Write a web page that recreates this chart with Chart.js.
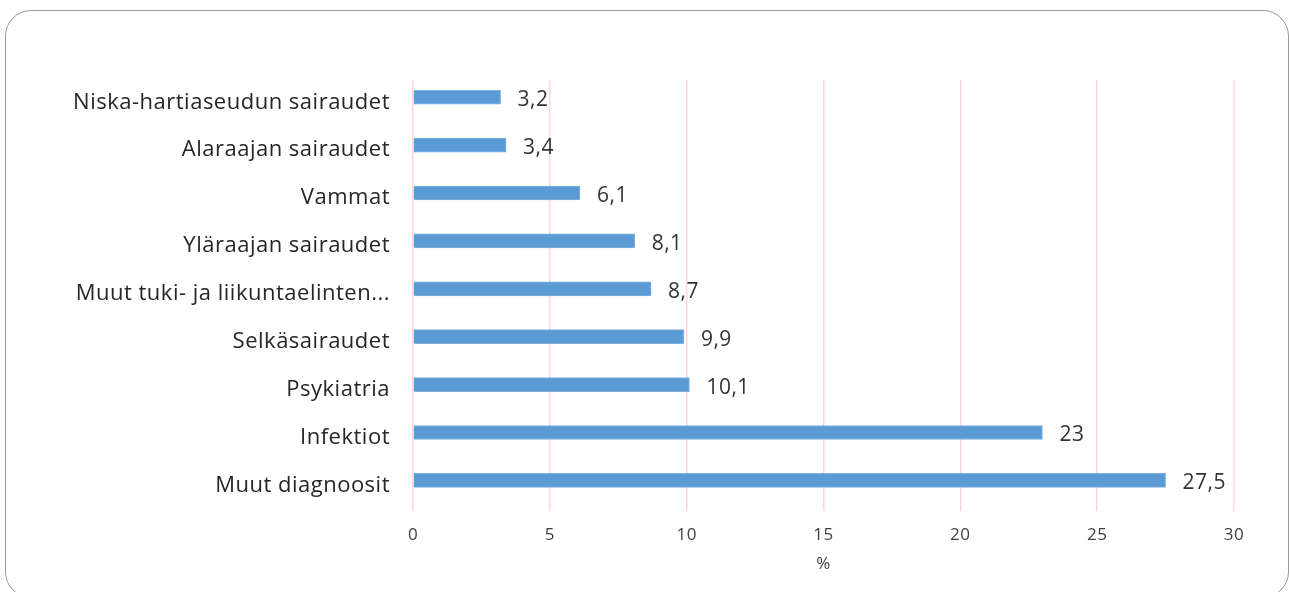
<!DOCTYPE html>
<html>
<head>
<meta charset="utf-8">
<script src="https://cdn.jsdelivr.net/npm/chart.js@4/dist/chart.umd.min.js"></script>
<style>
  html, body { margin: 0; padding: 0; background: #fff; overflow: hidden; }
  #wrap { position: relative; width: 1289px; height: 592px; }
  #frame {
    position: absolute; left: 5px; top: 10px; width: 1284px; height: 588px;
    border: 1.5px solid #9a9a9a; border-radius: 26px; box-sizing: border-box;
    pointer-events: none;
  }
  canvas { position: absolute; left: 0; top: 0; }
</style>
</head>
<body>
<div id="wrap">
  <div id="frame"></div>
  <canvas id="chart" width="1289" height="592"></canvas>
</div>
<script>
const categories = [
  "Niska-hartiaseudun sairaudet",
  "Alaraajan sairaudet",
  "Vammat",
  "Yläraajan sairaudet",
  "Muut tuki- ja liikuntaelinten...",
  "Selkäsairaudet",
  "Psykiatria",
  "Infektiot",
  "Muut diagnoosit"
];
const values = [3.2, 3.4, 6.1, 8.1, 8.7, 9.9, 10.1, 23, 27.5];
const xTicks = [0, 5, 10, 15, 20, 25, 30];
const axisTitle = "%";

const fontFamily = "'Open Sans', sans-serif";

// kuvan teksti on hieman harvennettua
const spacing = {
  id: "spacing",
  beforeDraw(chart) {
    chart.ctx.letterSpacing = "0.5px";
  }
};

// arvot palkkien perään, pilkku desimaalierottimena
const valueLabels = {
  id: "valueLabels",
  afterDatasetsDraw(chart) {
    const ctx = chart.ctx;
    const meta = chart.getDatasetMeta(0);
    ctx.save();
    ctx.font = "21px " + fontFamily;
    ctx.fillStyle = "#333333";
    ctx.textAlign = "left";
    ctx.textBaseline = "middle";
    meta.data.forEach((bar, i) => {
      const txt = String(values[i]).replace(".", ",");
      ctx.fillText(txt, bar.x + 17, bar.y + 3);
    });
    ctx.restore();
  }
};

// y-akseli lineaarisena, jotta palkit osuvat samaan kohtaan kuin kuvassa
const points = values.map((v, i) => ({ x: v, y: i }));

new Chart(document.getElementById("chart").getContext("2d"), {
  type: "bar",
  data: {
    datasets: [
      {
        data: points,
        backgroundColor: "#5b9bd5",
        borderColor: "#7fb0de",
        borderWidth: 1,
        barThickness: 14,
      },
    ],
  },
  options: {
    indexAxis: "y",
    responsive: false,
    animation: false,
    layout: { padding: { left: 0, right: 55, top: 80, bottom: 0 } },
    plugins: {
      legend: { display: false },
      tooltip: { enabled: false },
    },
    scales: {
      x: {
        type: "linear",
        min: 0,
        max: 30,
        afterBuildTicks(axis) {
          axis.ticks = xTicks.map((v) => ({ value: v }));
        },
        afterFit(axis) {
          axis.height = 81;
        },
        grid: {
          color: "#ffd3e0",
          lineWidth: 1.5,
          drawTicks: false,
        },
        border: { display: false },
        ticks: {
          padding: 14,
          color: "#404040",
          font: { family: fontFamily, size: 17 },
        },
        title: {
          display: true,
          text: axisTitle,
          color: "#404040",
          font: { family: fontFamily, size: 17 },
          padding: { top: 0, bottom: 18 },
        },
      },
      y: {
        type: "linear",
        reverse: true,
        offset: false,
        min: -0.36,
        max: 8.64,
        afterBuildTicks(axis) {
          axis.ticks = categories.map((c, i) => ({ value: i }));
        },
        afterFit(axis) {
          axis.width = 413;
        },
        grid: { display: false, drawTicks: false, offset: false },
        border: { display: false },
        ticks: {
          padding: 23,
          labelOffset: 5,
          color: "#262626",
          font: { family: fontFamily, size: 22 },
          callback: (v) => categories[v],
        },
      },
    },
  },
  plugins: [spacing, valueLabels],
});
</script>
</body>
</html>
